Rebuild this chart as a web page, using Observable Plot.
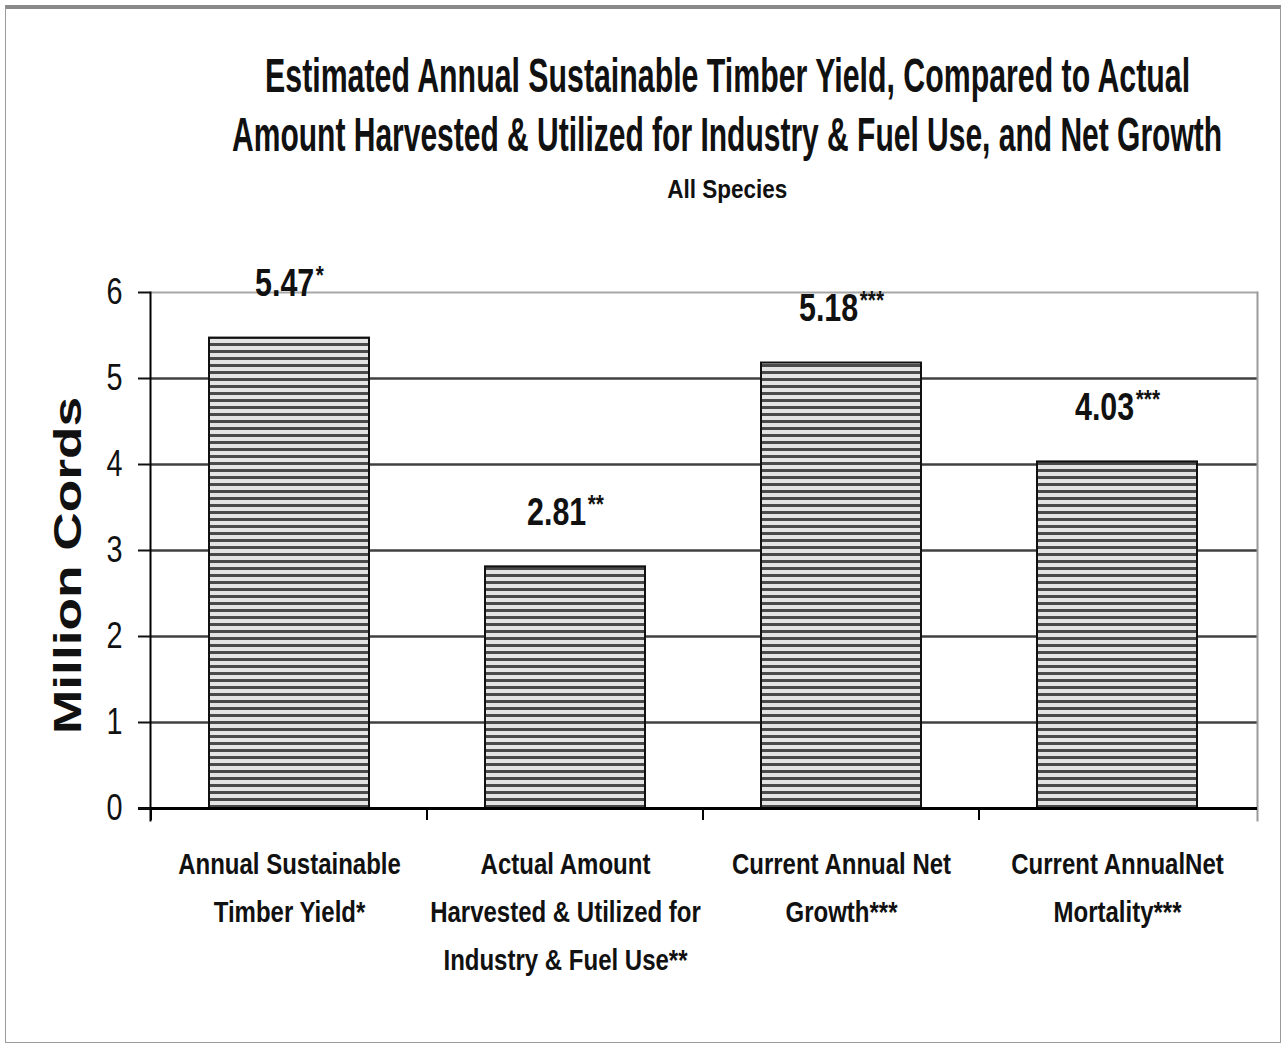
<!DOCTYPE html>
<html><head><meta charset="utf-8">
<script src="https://cdn.jsdelivr.net/npm/d3@7"></script>
<script src="https://cdn.jsdelivr.net/npm/@observablehq/plot@0.6"></script>
<style>
body{margin:0;background:#fff;width:1287px;height:1050px;position:relative;overflow:hidden;font-family:"Liberation Sans",Arial,sans-serif;color:#111}
#frame{position:absolute;left:5px;top:5px;width:1276px;height:1038px;border:1px solid #9a9a9a;border-top:4px solid #8a8a8a;box-sizing:border-box}
.t{position:absolute;left:-500px;width:2455px;text-align:center;white-space:nowrap;font-weight:bold}
.t span{display:inline-block;transform-origin:center}
#chart{position:absolute;left:0;top:210px}
</style></head>
<body>
<div id="frame"></div>
<div class="t" id="t1" style="top:52px;font-size:48px;line-height:48px"><span>Estimated Annual Sustainable Timber Yield, Compared to Actual</span></div>
<div class="t" id="t2" style="top:111px;font-size:48px;line-height:48px"><span>Amount Harvested &amp; Utilized for Industry &amp; Fuel Use, and Net Growth</span></div>
<div class="t" id="t3" style="top:176px;font-size:26px;line-height:26px"><span>All Species</span></div>
<div id="chart"></div>
<script>
const categories = [
  "Annual Sustainable\nTimber Yield*",
  "Actual Amount\nHarvested & Utilized for\nIndustry & Fuel Use**",
  "Current Annual Net\nGrowth***",
  "Current AnnualNet\nMortality***"
];
const values = [5.47, 2.81, 5.18, 4.03];
const valueLabels = ["5.47*", "2.81**", "5.18***", "4.03***"];
const yTicks = [0, 1, 2, 3, 4, 5, 6];
const gridTicks = [1, 2, 3, 4, 5];
const yLabel = "Million Cords";

const data = categories.map((c, i) => ({category: c, value: values[i], label: valueLabels[i]}));
const sans = '"Liberation Sans",Arial,sans-serif';

const chart = Plot.plot({
  width: 1287, height: 830,
  marginLeft: 150, marginRight: 30, marginTop: 82, marginBottom: 232,
  style: {fontFamily: sans, background: "transparent", overflow: "visible", color: "#111"},
  x: {domain: categories, paddingInner: 0.42, paddingOuter: 0.21, axis: null},
  y: {domain: [0, 6], axis: null},
  marks: [
    Plot.ruleY(gridTicks, {stroke: "#404040", strokeWidth: 2.5}),
    Plot.ruleY([6], {stroke: "#a8a8a8", strokeWidth: 2}),
    Plot.frame({anchor: "right", stroke: "#9a9a9a", strokeWidth: 2, insetBottom: -12}),
    Plot.barY(data, {x: "category", y: "value", fill: "url(#hatch)", stroke: "#111", strokeWidth: 2}),
    Plot.ruleY([0], {stroke: "#000", strokeWidth: 3, insetLeft: -12}),
    Plot.frame({anchor: "left", stroke: "#000", strokeWidth: 2, insetBottom: -12}),
    Plot.axisY({ticks: yTicks, tickFormat: d => String(d), tickSize: 12, tickPadding: 16, fontSize: 36, strokeWidth: 2,
      label: yLabel, labelAnchor: "center", labelArrow: "none", labelOffset: 96}),
    Plot.axisX({tickSize: 0, tickPadding: 31, fontSize: 30, fontWeight: "bold", lineHeight: 1.6, label: null}),
    Plot.text(data, {x: "category", y: "value", text: "label", dy: -54, fontSize: 38, fontWeight: "bold"})
  ]
});
document.getElementById("chart").appendChild(chart);

const svg = d3.select(chart);
const defs = svg.insert("defs", ":first-child");
const pat = defs.append("pattern").attr("id", "hatch").attr("patternUnits", "userSpaceOnUse")
  .attr("width", 10).attr("height", 7);
pat.append("rect").attr("width", 10).attr("height", 7).attr("fill", "#e4e4e4");
pat.append("rect").attr("width", 10).attr("height", 3).attr("fill", "#4a4a4a");

// boundary ticks on the category axis
const xs = chart.scale("x"), ys = chart.scale("y");
const gap = (xs.step - xs.bandwidth) / 2;
const y0 = ys.apply(0);
const g = svg.append("g").attr("stroke", "#000").attr("stroke-width", 2);
categories.forEach(c => {
  const bx = xs.apply(c) - gap;
  g.append("line").attr("x1", bx).attr("x2", bx).attr("y1", y0).attr("y2", y0 + 12);
});

// narrow (condensed) text helper
function narrow(el, f) {
  const lines = el.querySelectorAll("tspan[x]");
  if (lines.length) {
    lines.forEach(t => {
      t.setAttribute("textLength", t.getComputedTextLength() * f);
      t.setAttribute("lengthAdjust", "spacingAndGlyphs");
    });
  } else {
    el.setAttribute("textLength", el.getComputedTextLength() * f);
    el.setAttribute("lengthAdjust", "spacingAndGlyphs");
  }
}

// value labels: condensed numbers with superscript asterisks
svg.selectAll("text").each(function() {
  const t = this.textContent;
  const m = t.match(/^([\d.]+)(\*+)$/);
  if (!m || this.querySelector("tspan")) return;
  this.textContent = "";
  d3.select(this).append("tspan").text(m[1]);
  d3.select(this).append("tspan").attr("font-size", 26).attr("dx", 2).attr("dy", -12).text(m[2]);
  const tr = this.getAttribute("transform") || "";
  this.setAttribute("transform", tr + " scale(0.8,1)");
});

// category tick labels
svg.selectAll("text").filter(function() { return this.querySelector("tspan[x]"); })
  .each(function() { narrow(this, 0.8); });

// y tick labels
svg.selectAll("text").filter(function() { return /^\d$/.test(this.textContent); })
  .each(function() { narrow(this, 0.8); });

// y-axis label styling
svg.selectAll("text").filter(function() { return this.textContent === yLabel; })
  .attr("font-size", 38).attr("font-weight", "bold").attr("dx", -15)
  .attr("textLength", 337).attr("lengthAdjust", "spacingAndGlyphs");

function fit(id, w) {
  const s = document.querySelector("#" + id + " span");
  const cw = s.getBoundingClientRect().width;
  s.style.transform = "scaleX(" + (w / cw) + ")";
}
fit("t1", 925); fit("t2", 990); fit("t3", 120);
</script>
</body></html>
